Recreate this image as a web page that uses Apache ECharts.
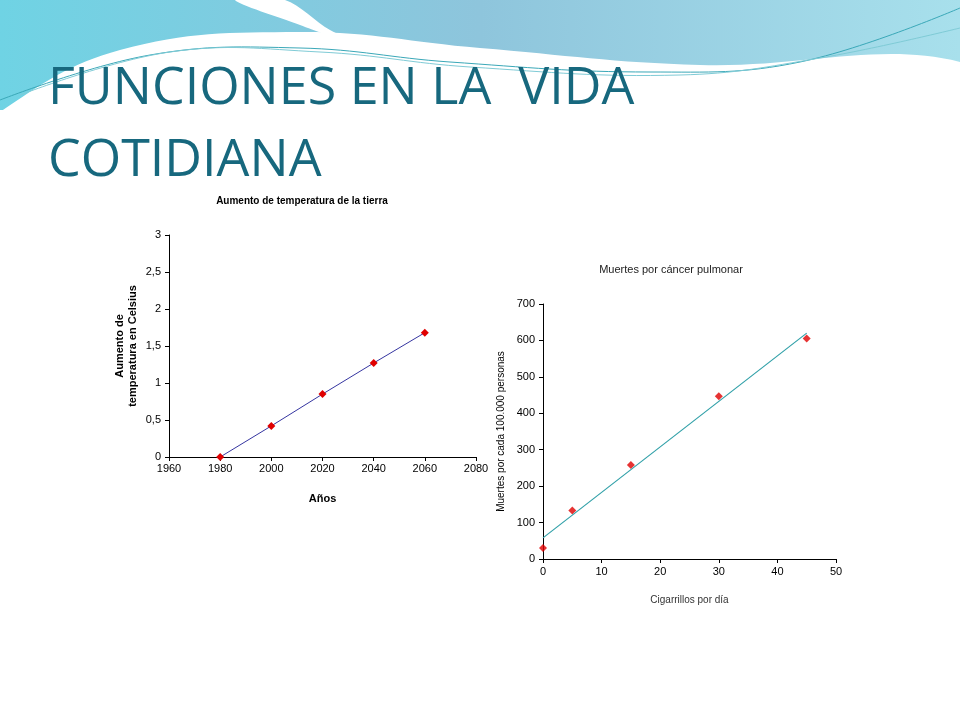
<!DOCTYPE html>
<html>
<head>
<meta charset="utf-8">
<script src="https://cdn.jsdelivr.net/npm/echarts@6/dist/echarts.min.js"></script>
<style>
  html, body { margin: 0; padding: 0; background: #fff; }
  #main { width: 960px; height: 720px; }
</style>
</head>
<body>
<div id="main"></div>
<script>
// temperature chart
const tempYears = [1980, 2000, 2020, 2040, 2060]
const tempRise = [0, 0.42, 0.85, 1.27, 1.68]

// lung cancer chart
const cigarettes = [0, 5, 15, 30, 45]
const deaths = [30, 133, 258, 447, 605]
const trendX = [0, 45]
const trendY = [58, 620]

const chart = echarts.init(document.getElementById('main'))

const axisFont = { fontFamily: 'Liberation Sans', fontSize: 11, color: '#000' }
const axisLine = { show: true, lineStyle: { color: '#000', width: 1 } }
const axisTick = { show: true, inside: false, length: 4, lineStyle: { color: '#000' } }

const option = {
    backgroundColor: '#fff',
    animation: false,
    title: [
        {
            text: 'Aumento de temperatura de la tierra',
            left: 297, top: 191, textAlign: 'center',
            textStyle: { fontFamily: 'Liberation Sans', fontSize: 10, fontWeight: 'bold', color: '#000' },
        },
        {
            text: 'Muertes por cáncer pulmonar',
            left: 666, top: 259, textAlign: 'center',
            textStyle: { fontFamily: 'Liberation Sans', fontSize: 11, fontWeight: 'normal', color: '#222' },
        },
    ],
    grid: [
        { left: 169, top: 235, width: 307, height: 222 },
        { left: 543, top: 304, width: 293, height: 255 },
    ],
    xAxis: [
        {
            gridIndex: 0, type: 'value', min: 1960, max: 2080, interval: 20,
            axisLine, axisTick, splitLine: { show: false },
            axisLabel: { ...axisFont, margin: 6, formatter: v => String(v) },
            name: 'Años', nameLocation: 'middle', nameGap: 36,
            nameTextStyle: { fontFamily: 'Liberation Sans', fontSize: 11, fontWeight: 'bold', color: '#000' },
        },
        {
            gridIndex: 1, type: 'value', min: 0, max: 50, interval: 10,
            axisLine, axisTick, splitLine: { show: false },
            axisLabel: { ...axisFont, margin: 7 },
            name: 'Cigarrillos por día', nameLocation: 'middle', nameGap: 36,
            nameTextStyle: { fontFamily: 'Liberation Sans', fontSize: 10, color: '#333' },
        },
    ],
    yAxis: [
        {
            gridIndex: 0, type: 'value', min: 0, max: 3, interval: 0.5,
            axisLine, axisTick, splitLine: { show: false },
            axisLabel: { ...axisFont, formatter: v => String(v).replace('.', ',') },
            name: 'Aumento de\ntemperatura en Celsius', nameLocation: 'middle', nameGap: 30,
            nameTextStyle: { fontFamily: 'Liberation Sans', fontSize: 11, fontWeight: 'bold', color: '#000', lineHeight: 13 },
        },
        {
            gridIndex: 1, type: 'value', min: 0, max: 700, interval: 100,
            axisLine, axisTick, splitLine: { show: false },
            axisLabel: { ...axisFont },
            name: 'Muertes por cada 100.000 personas', nameLocation: 'middle', nameGap: 37,
            nameTextStyle: { fontFamily: 'Liberation Sans', fontSize: 10, color: '#000' },
        },
    ],
    series: [
        {
            type: 'line', xAxisIndex: 0, yAxisIndex: 0,
            data: tempYears.map((y, i) => [y, tempRise[i]]),
            lineStyle: { color: '#3535a0', width: 1 },
            symbol: 'diamond', symbolSize: 8,
            itemStyle: { color: '#e00000' },
        },
        {
            type: 'line', xAxisIndex: 1, yAxisIndex: 1,
            data: trendX.map((x, i) => [x, trendY[i]]),
            lineStyle: { color: '#30a0a8', width: 1.2 },
            symbol: 'none',
        },
        {
            type: 'scatter', xAxisIndex: 1, yAxisIndex: 1,
            data: cigarettes.map((x, i) => [x, deaths[i]]),
            symbol: 'diamond', symbolSize: 8,
            itemStyle: { color: '#e00000' },
        },
    ],
    graphic: [
        {
            type: 'rect', z: -10, silent: true,
            shape: { x: 0, y: 0, width: 960, height: 110 },
            style: {
                fill: new echarts.graphic.LinearGradient(0, 0, 1, 0, [
                    { offset: 0, color: '#6fd3e4' },
                    { offset: 0.5, color: '#8ec5dc' },
                    { offset: 1, color: '#a8e0ec' },
                ]),
            },
        },
        {
            type: 'polygon', z: -9, silent: true,
            shape: { points: [[0, 112], [120, 50], [300, 32], [480, 48], [700, 65], [960, 62], [960, 130], [0, 130]], smooth: 0.4 },
            style: { fill: '#fff' },
        },
        {
            type: 'polygon', z: -9, silent: true,
            shape: { points: [[235, 0], [300, 25], [395, 60], [330, 30], [285, 0]], smooth: 0.3 },
            style: { fill: '#fff' },
        },
        {
            type: 'polyline', z: -8, silent: true,
            shape: { points: [[0, 100], [150, 55], [300, 48], [450, 62], [650, 72], [800, 62], [960, 8]], smooth: 0.4 },
            style: { fill: 'none', stroke: '#3aa8b8', lineWidth: 1 },
        },
        {
            type: 'polyline', z: -8, silent: true,
            shape: { points: [[20, 95], [170, 52], [320, 52], [470, 67], [680, 75], [820, 58], [960, 28]], smooth: 0.4 },
            style: { fill: 'none', stroke: '#7fcbd6', lineWidth: 1 },
        },
        {
            type: 'text', left: 48, top: 53,
            style: {
                text: 'FUNCIONES EN LA  VIDA\nCOTIDIANA',
                fontFamily: 'Open Sans', fontSize: 52, lineHeight: 72,
                fill: '#17687e',
            },
        },
    ],
}

chart.setOption(option)
</script>
</body>
</html>
